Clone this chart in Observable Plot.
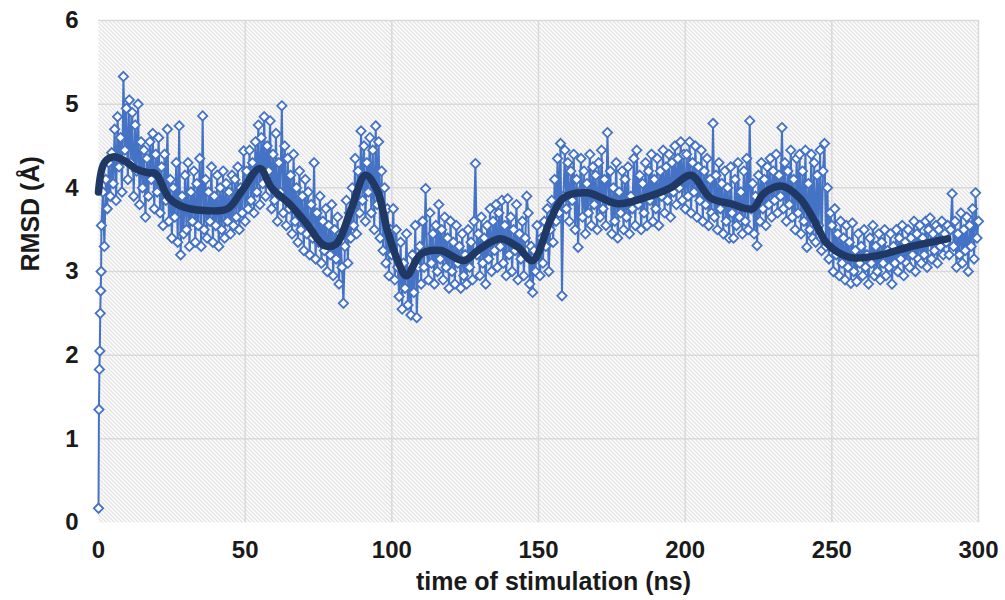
<!DOCTYPE html>
<html><head><meta charset="utf-8">
<script src="https://cdn.jsdelivr.net/npm/d3@7"></script>
<script src="https://cdn.jsdelivr.net/npm/@observablehq/plot@0.6"></script>
<style>body{margin:0;background:#fff;} #chart{width:1005px;height:600px;}</style>
</head><body><div id="chart"></div>
<script>
// ---- tick labels / titles ----
const xTicks = [0, 50, 100, 150, 200, 250, 300];
const yTicks = [0, 1, 2, 3, 4, 5, 6];
const xTitle = "time of stimulation (ns)";
const yTitle = "RMSD (Å)";

// ---- raw RMSD: first nanosecond (fast rise) ----
const startTime = [0, 0.15, 0.3, 0.45, 0.6, 0.75, 0.9];
const startRmsd = [0.17, 1.35, 1.83, 2.05, 2.5, 2.77, 3.0];

// ---- raw RMSD, sampled every 0.5 ns ----
const step = 0.5;
const rmsd001 = [ // t = 1.0 .. 49.5
  3.55,3.95,3.3,4.1,3.75,4.3,3.9,4.42,4.05,4.7,
  3.85,4.85,4.25,4.6,3.95,5.33,4.45,4.95,4.1,5.05,
  4.3,4.9,3.9,4.75,4.2,5.0,3.8,4.55,4.0,4.45,
  3.65,4.35,3.9,4.55,4.1,4.65,3.75,4.4,3.95,4.6,
  3.7,4.25,3.55,4.4,3.85,4.7,3.6,4.1,3.4,4.0,
  3.65,4.3,3.35,4.74,3.2,3.9,3.45,4.15,3.5,4.3,
  3.3,3.95,3.6,4.2,3.35,4.05,3.55,4.35,3.3,4.86,
  3.5,4.1,3.4,3.95,3.6,4.25,3.35,3.9,3.55,4.15,
  3.3,4.0,3.5,4.2,3.4,4.05,3.6,3.95,3.45,4.15,
  3.55,4.1,3.65,4.25,3.5,4.0,3.7,4.44];
const rmsd050 = [ // t = 50 .. 99.5
  3.6,4.2,3.75,4.45,3.85,4.3,3.7,4.55,3.95,4.75,
  3.8,4.6,4.05,4.85,3.9,4.5,4.2,4.8,3.75,4.4,
  3.85,4.65,3.6,4.3,3.95,4.98,3.7,4.5,3.55,4.35,
  3.75,4.15,3.45,4.4,3.6,4.0,3.35,4.2,3.5,3.9,
  3.25,4.1,3.45,3.95,3.2,3.8,3.4,4.3,3.15,3.7,
  3.35,3.9,3.1,3.6,3.25,3.75,3.0,3.55,3.2,3.8,
  2.95,3.5,3.15,3.65,2.85,3.45,3.05,2.62,3.3,3.85,
  3.1,3.7,3.4,4.0,3.55,4.35,3.45,4.2,3.7,4.68,
  3.85,4.5,3.6,4.3,3.95,4.6,3.7,4.45,3.5,4.74,
  3.8,4.55,3.4,4.2,3.25,4.0,3.1,3.75,2.95,3.5];
const rmsd100 = [ // t = 100 .. 149.5
  3.2,3.75,2.9,3.5,3.05,2.7,3.35,2.55,3.1,2.8,
  3.45,2.6,3.0,2.48,3.2,2.75,3.55,2.45,3.05,3.3,
  2.85,3.6,3.05,3.99,3.25,2.9,3.7,3.1,3.45,2.85,
  3.55,3.0,3.8,3.15,3.5,2.9,3.65,3.05,3.4,2.8,
  3.6,3.0,3.35,2.85,3.55,3.1,3.3,2.8,3.45,2.95,
  3.2,2.85,3.5,3.05,3.35,2.9,3.6,4.29,3.2,3.45,
  2.95,3.65,3.1,3.4,2.85,3.55,3.15,3.75,3.0,3.6,
  3.25,3.8,3.05,3.7,3.3,3.85,3.1,3.55,2.95,3.87,
  3.2,3.65,3.0,3.5,3.25,3.8,2.9,3.45,3.15,3.6,
  2.95,3.4,3.9,3.7,2.85,3.3,2.75,3.25,3.0,3.55];
const rmsd150 = [ // t = 150 .. 199.5
  3.2,2.95,3.4,3.1,3.6,3.3,3.75,3.0,3.5,3.85,
  3.35,4.1,3.6,4.35,3.7,4.53,2.71,3.9,4.45,3.75,
  4.3,3.6,4.2,3.85,4.4,3.5,4.1,3.29,3.95,4.35,
  3.65,4.2,3.45,4.05,3.7,4.4,3.55,4.25,3.8,4.15,
  3.5,4.3,3.65,4.45,3.75,4.1,3.55,4.66,3.85,4.2,
  3.45,4.0,3.6,4.3,3.4,3.95,3.7,4.2,3.5,4.1,
  3.65,4.25,3.45,3.9,3.75,4.35,3.55,4.45,3.8,4.15,
  3.5,4.05,3.7,4.3,3.55,4.2,3.85,4.4,3.6,4.1,
  3.75,4.35,3.55,4.2,3.9,4.45,3.7,4.25,3.85,4.4,
  3.65,4.3,3.95,4.5,3.8,4.35,4.0,4.55,3.85,4.4];
const rmsd200 = [ // t = 200 .. 249.5
  3.75,4.4,3.9,4.55,3.7,4.3,3.95,4.5,3.65,4.25,
  3.85,4.45,3.6,4.2,3.8,4.35,3.55,4.1,3.7,4.77,
  3.65,4.15,3.5,4.3,3.75,4.05,3.45,4.2,3.6,4.0,
  3.4,4.25,3.7,3.4,4.1,3.55,4.3,3.65,3.95,3.45,
  4.2,3.6,4.35,3.5,4.8,3.75,4.05,3.45,3.9,3.31,
  4.15,3.6,4.3,3.75,4.1,3.55,4.25,3.8,4.35,3.65,
  4.2,3.85,4.4,3.7,4.15,3.9,4.72,3.75,4.3,3.6,
  4.2,3.8,4.45,3.65,4.1,3.5,4.35,3.7,4.4,3.45,
  4.2,3.6,4.45,3.29,4.05,3.5,4.4,3.4,4.3,3.35,
  4.15,3.55,4.45,3.25,4.2,4.53,3.3,4.0,3.15,3.7];
const rmsd250 = [ // t = 250 .. 300
  3.55,3.0,3.75,3.2,3.45,2.95,3.6,3.1,3.4,2.9,
  3.55,3.05,3.35,2.86,3.58,3.0,3.25,2.88,3.45,3.1,
  3.3,2.95,3.5,3.05,3.2,2.85,3.4,3.1,3.55,2.95,
  3.3,3.0,3.45,2.9,3.35,3.1,3.5,2.95,3.25,3.05,
  3.45,2.85,3.3,3.1,3.5,3.0,3.4,3.15,3.55,2.95,
  3.35,3.1,3.5,3.05,3.4,3.2,3.6,3.0,3.45,3.15,
  3.55,3.1,3.4,3.2,3.6,3.05,3.5,3.64,3.15,3.45,
  3.25,3.55,3.1,3.5,3.3,3.6,3.2,3.45,3.35,3.55,
  3.2,3.5,3.93,3.3,3.6,3.05,3.45,3.2,3.7,3.1,
  3.5,3.25,3.65,3.0,3.55,3.3,3.75,3.15,3.94,3.4,
  3.6];
const blockStart = [1, 50, 100, 150, 200, 250];

// ---- moving average (dark trend line) ----
const maTime = [0, 2, 5, 9, 13, 17, 19.5, 24, 29, 36, 44, 49, 55, 59, 65, 71, 77, 81, 86, 91, 95, 98.5, 102, 105, 110, 116.6, 124.5, 130, 137, 143, 148, 154, 158.5, 166.6, 177, 186, 195, 202, 208.6, 215.5, 223, 226.7, 233, 239, 244, 248.5, 256, 265.6, 276, 289.5];
const maRmsd = [3.95, 4.3, 4.37, 4.32, 4.22, 4.18, 4.17, 3.88, 3.77, 3.73, 3.75, 3.97, 4.23, 4.0, 3.81, 3.57, 3.31, 3.33, 3.73, 4.15, 3.97, 3.49, 3.13, 2.95, 3.21, 3.25, 3.13, 3.27, 3.39, 3.29, 3.13, 3.61, 3.88, 3.94, 3.81, 3.88, 4.0, 4.15, 3.88, 3.81, 3.75, 3.93, 4.02, 3.88, 3.61, 3.33, 3.17, 3.19, 3.29, 3.39];

// ---- build tables ----
const raw = startTime.map((t, i) => ({t, v: startRmsd[i]}));
[rmsd001, rmsd050, rmsd100, rmsd150, rmsd200, rmsd250].forEach((arr, b) => {
  arr.forEach((v, i) => raw.push({t: blockStart[b] + i * step, v}));
});
const ma = maTime.map((t, i) => ({t, v: maRmsd[i]}));

const gridStyle = {stroke: "#d9d9d9", strokeOpacity: 1, strokeWidth: 1.5};

const plot = Plot.plot({
  width: 1005, height: 600,
  marginLeft: 98, marginRight: 27, marginTop: 20, marginBottom: 78,
  x: {domain: [0, 300]},
  y: {domain: [0, 6]},
  style: {fontFamily: "'Liberation Sans', Arial, sans-serif", fontWeight: "bold", fontSize: "24px", color: "#1a1a1a", background: "white", overflow: "visible"},
  marks: [
    Plot.frame({fill: "url(#hatch)", stroke: "none"}),
    Plot.gridX(xTicks.filter(d => d > 0), gridStyle),
    Plot.gridY(yTicks.filter(d => d > 0), gridStyle),
    Plot.axisX(xTicks, {tickSize: 0, tickPadding: 18, label: null, tickFormat: d => String(d), fontSize: 24, fontWeight: "bold"}),
    Plot.axisY(yTicks, {tickSize: 0, tickPadding: 20, label: null, tickFormat: d => String(d), fontSize: 24, fontWeight: "bold"}),
    Plot.line(raw, {x: "t", y: "v", stroke: "#4472C4", strokeWidth: 2}),
    Plot.dot(raw, {x: "t", y: "v", symbol: "diamond2", r: 4.2, stroke: "#4472C4", strokeWidth: 1.8, fill: "white"}),
    Plot.line(ma, {x: "t", y: "v", curve: "catmull-rom", stroke: "#1f3864", strokeWidth: 7.5, strokeLinecap: "round", strokeLinejoin: "round"}),
    Plot.text([xTitle], {text: d => d, frameAnchor: "bottom", dy: 67, dx: 15, fontSize: 25, fontWeight: "bold"}),
    Plot.text([yTitle], {text: d => d, frameAnchor: "left", rotate: -90, dx: -68, fontSize: 25, fontWeight: "bold"})
  ]
});

const defs = d3.select(plot).insert("defs", ":first-child");
const pat = defs.append("pattern").attr("id", "hatch").attr("patternUnits", "userSpaceOnUse").attr("width", 4).attr("height", 4);
pat.append("rect").attr("width", 4).attr("height", 4).attr("fill", "white");
pat.append("path").attr("d", "M-1,-1L5,5M-1,3L1,5M3,-1L5,1").attr("stroke", "#c8c8c8").attr("stroke-width", 1);

document.getElementById("chart").appendChild(plot);
</script>
</body></html>
